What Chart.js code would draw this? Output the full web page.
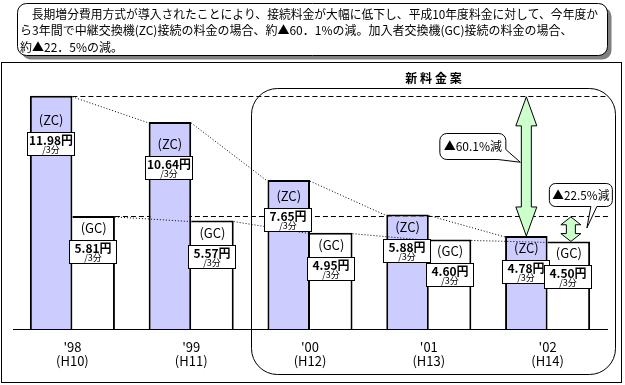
<!DOCTYPE html>
<html><head><meta charset="utf-8">
<script src="https://cdn.jsdelivr.net/npm/chart.js@4"></script>
<style>html,body{margin:0;padding:0;background:#fff;}#wrap{width:625px;height:385px;position:relative;}</style>
</head><body><div id="wrap"><canvas id="c" width="625" height="385"></canvas></div>
<script>
const years = ["'98", "'99", "'00", "'01", "'02"];
const eras = ["(H10)", "(H11)", "(H12)", "(H13)", "(H14)"];
const zcValues = [11.98, 10.64, 7.65, 5.88, 4.78];
const gcValues = [5.81, 5.57, 4.95, 4.60, 4.50];
const seriesNames = ["(ZC)", "(GC)"];
const yenSuffix = "円";
const unitLabel = "/3分";
const headerLines = [
  "　長期増分費用方式が導入されたことにより、接続料金が大幅に低下し、平成10年度料金に対して、今年度か",
  "ら3年間で中継交換機(ZC)接続の料金の場合、約▲60．1%の減。加入者交換機(GC)接続の料金の場合、",
  "約▲22．5%の減。"
];
const newPlanTitle = "新料金案";
const zcDropLabel = "▲60.1%減";
const gcDropLabel = "▲22.5%減";

const JP = '"Noto Sans CJK JP", "Noto Sans", sans-serif';

function rr(c, x, y, w, h, r) {
  c.beginPath(); c.moveTo(x + r, y); c.lineTo(x + w - r, y); c.arcTo(x + w, y, x + w, y + r, r);
  c.lineTo(x + w, y + h - r); c.arcTo(x + w, y + h, x + w - r, y + h, r); c.lineTo(x + r, y + h);
  c.arcTo(x, y + h, x, y + h - r, r); c.lineTo(x, y + r); c.arcTo(x, y, x + r, y, r); c.closePath();
}
function dblArrow(c, x, y1, y2, sw, hw, hl) {
  hl = Math.min(hl, (y2 - y1) * 0.32);
  c.beginPath();
  c.moveTo(x, y1); c.lineTo(x + hw / 2, y1 + hl); c.lineTo(x + sw / 2, y1 + hl); c.lineTo(x + sw / 2, y2 - hl);
  c.lineTo(x + hw / 2, y2 - hl); c.lineTo(x, y2); c.lineTo(x - hw / 2, y2 - hl); c.lineTo(x - sw / 2, y2 - hl);
  c.lineTo(x - sw / 2, y1 + hl); c.lineTo(x - hw / 2, y1 + hl); c.closePath();
  c.fillStyle = '#ccffcc'; c.fill(); c.strokeStyle = '#000'; c.lineWidth = 1; c.stroke();
}

const deco = {
  id: 'deco',
  beforeDraw(chart) {
    const c = chart.ctx, a = chart.chartArea;
    c.save();
    c.fillStyle = '#fff'; c.fillRect(0, 0, chart.width, chart.height);
    // header box with shadow
    c.fillStyle = '#808080'; rr(c, 21.5, 7.5, 590, 52, 9); c.fill();
    c.fillStyle = '#fff'; rr(c, 17.5, 3.5, 590, 52, 9); c.fill();
    c.strokeStyle = '#000'; c.lineWidth = 1; c.stroke();
    c.fillStyle = '#000'; c.font = '12px ' + JP; c.textBaseline = 'middle'; c.textAlign = 'left';
    headerLines.forEach((t, i) => c.fillText(t, 20, 14 + i * 16.5, i < 2 ? 578 : 400));
    // outer frame
    c.strokeRect(1.5, 62.5, 620, 320);
    // new plan rounded box
    const xs = chart.scales.x;
    const bx = Math.round((xs.getPixelForValue(1) + xs.getPixelForValue(2)) / 2) + 0.5;
    const br = a.right + 8.5;
    rr(c, bx, a.top + 12.5, br - bx, 374 - a.top - 12, 26); c.stroke();
    c.font = 'bold 12px ' + JP; c.textAlign = 'center';
    const cx = (bx + br) / 2;
    [...newPlanTitle].forEach((ch, i) => c.fillText(ch, cx + (i - 1.5) * 14.8, 78));
    c.restore();
  },
  beforeDatasetsDraw(chart) {
    const c = chart.ctx;
    const zc = chart.getDatasetMeta(0).data, gc = chart.getDatasetMeta(1).data;
    c.save(); c.strokeStyle = '#000'; c.lineWidth = 1; c.setLineDash([5, 3]);
    const rightEnd = chart.chartArea.right + 1;
    [[zc[0], zc[0].y], [gc[0], gc[0].y]].forEach(([el, y]) => {
      const yy = Math.round(y) + 0.5;
      c.beginPath(); c.moveTo(el.x + el.width / 2, yy); c.lineTo(rightEnd, yy); c.stroke();
    });
    c.restore();
  },
  afterDatasetsDraw(chart) {
    const c = chart.ctx;
    const metas = [chart.getDatasetMeta(0).data, chart.getDatasetMeta(1).data];
    const values = [zcValues, gcValues];
    c.save();
    // dotted trend lines
    c.strokeStyle = '#000'; c.lineWidth = 1; c.setLineDash([1, 2]);
    metas.forEach(els => {
      for (let i = 0; i < els.length - 1; i++) {
        const p = els[i], q = els[i + 1];
        c.beginPath(); c.moveTo(p.x + p.width / 2, p.y + 1); c.lineTo(q.x - q.width / 2, q.y + 1); c.stroke();
      }
    });
    c.setLineDash([]);
    // arrows
    const zcFirst = metas[0][0], zcLast = metas[0][4], gcFirst = metas[1][0], gcLast = metas[1][4];
    const ax1 = zcLast.x, a1t = zcFirst.y + 1, a1b = zcLast.y;
    dblArrow(c, ax1, a1t, a1b, 10, 21, 29);
    const ax2 = gcLast.x + 2, a2t = gcFirst.y + 1, a2b = gcLast.y;
    dblArrow(c, ax2, a2t, a2b, 9, 20, 12);
    // callout 1 (tail from bottom-right corner)
    {
      const span = a1b - a1t;
      const x = ax1 - 86.5, y = Math.round(a1t + 0.26 * span) + 0.5, w = 66, h = 26, r = 7;
      const tip = { x: ax1 - 6, y: a1t + 0.47 * span };
      c.beginPath(); c.moveTo(x + r, y); c.lineTo(x + w - r, y); c.arcTo(x + w, y, x + w, y + r, r);
      c.lineTo(x + w, y + h - 10); c.lineTo(tip.x, tip.y); c.lineTo(x + w - 8, y + h);
      c.lineTo(x + r, y + h); c.arcTo(x, y + h, x, y + h - r, r); c.lineTo(x, y + r); c.arcTo(x, y, x + r, y, r); c.closePath();
      c.fillStyle = '#fff'; c.fill(); c.strokeStyle = '#000'; c.stroke();
      c.fillStyle = '#000'; c.font = '12px ' + JP; c.textAlign = 'center'; c.textBaseline = 'middle';
      c.fillText(zcDropLabel, x + w / 2, y + h / 2, w - 6);
    }
    // callout 2 (tail from bottom edge)
    {
      const x = ax2 - 21.5, y = Math.round(a2t - 34) + 0.5, w = 63, h = 23, r = 6;
      const tip = { x: ax2 + 16, y: a2t + 11 };
      c.beginPath(); c.moveTo(x + r, y); c.lineTo(x + w - r, y); c.arcTo(x + w, y, x + w, y + r, r);
      c.lineTo(x + w, y + h - r); c.arcTo(x + w, y + h, x + w - r, y + h, r);
      c.lineTo(ax2 + 26, y + h); c.lineTo(tip.x, tip.y); c.lineTo(ax2 + 20, y + h);
      c.lineTo(x + r, y + h); c.arcTo(x, y + h, x, y + h - r, r); c.lineTo(x, y + r); c.arcTo(x, y, x + r, y, r); c.closePath();
      c.fillStyle = '#fff'; c.fill(); c.strokeStyle = '#000'; c.stroke();
      c.fillStyle = '#000'; c.font = '12px ' + JP; c.textAlign = 'center'; c.textBaseline = 'middle';
      c.fillText(gcDropLabel, x + w / 2, y + h / 2, w - 6);
    }
    // bar name labels and value boxes
    metas.forEach((els, d) => {
      els.forEach((el, i) => {
        const h = el.base - el.y;
        const nameY = el.y + Math.max(11, Math.min(26, h * 0.1));
        c.fillStyle = '#000'; c.textAlign = 'center'; c.textBaseline = 'middle';
        c.font = '13px ' + JP;
        c.fillText(seriesNames[d], el.x, nameY + 1);
        const bw = 47, bh = 23;
        const bx = Math.round(el.x - bw / 2) - 0.5, by = Math.round(nameY + 13) + 0.5;
        c.fillStyle = '#fff'; c.fillRect(bx, by, bw, bh);
        c.strokeStyle = '#000'; c.lineWidth = 1; c.strokeRect(bx, by, bw, bh);
        c.fillStyle = '#000';
        c.font = 'bold 12px ' + JP;
        c.fillText(values[d][i].toFixed(2) + yenSuffix, bx + bw / 2, by + 8, bw - 3);
        c.font = '9px ' + JP;
        c.fillText(unitLabel, bx + bw / 2, by + 17.5);
      });
    });
    c.restore();
  }
};

new Chart(document.getElementById('c'), {
  type: 'bar',
  data: {
    labels: years.map((y, i) => [y, eras[i]]),
    datasets: [
      { label: 'ZC', data: zcValues, backgroundColor: '#ccccff', borderColor: '#000',
        borderWidth: { top: 2, left: 2, right: 2, bottom: 0 }, categoryPercentage: 0.716, barPercentage: 1 },
      { label: 'GC', data: gcValues, backgroundColor: '#ffffff', borderColor: '#000',
        borderWidth: { top: 2, left: 0, right: 2, bottom: 0 }, categoryPercentage: 0.716, barPercentage: 1 }
    ]
  },
  options: {
    responsive: false, animation: false, devicePixelRatio: 1,
    layout: { padding: { left: 13, right: 18, top: 76, bottom: 0 } },
    scales: {
      x: {
        z: 1,
        grid: { display: false, drawTicks: false },
        border: { display: true, color: '#000', width: 1 },
        ticks: { color: '#000', font: { family: JP, size: 13, lineHeight: 1.1 }, padding: 11, maxRotation: 0, autoSkip: false },
        afterFit: (s) => { s.height = 56; }
      },
      y: { display: false, min: 0, max: 13 }
    },
    plugins: { legend: { display: false }, tooltip: { enabled: false } }
  },
  plugins: [deco]
});
</script>
</body></html>
